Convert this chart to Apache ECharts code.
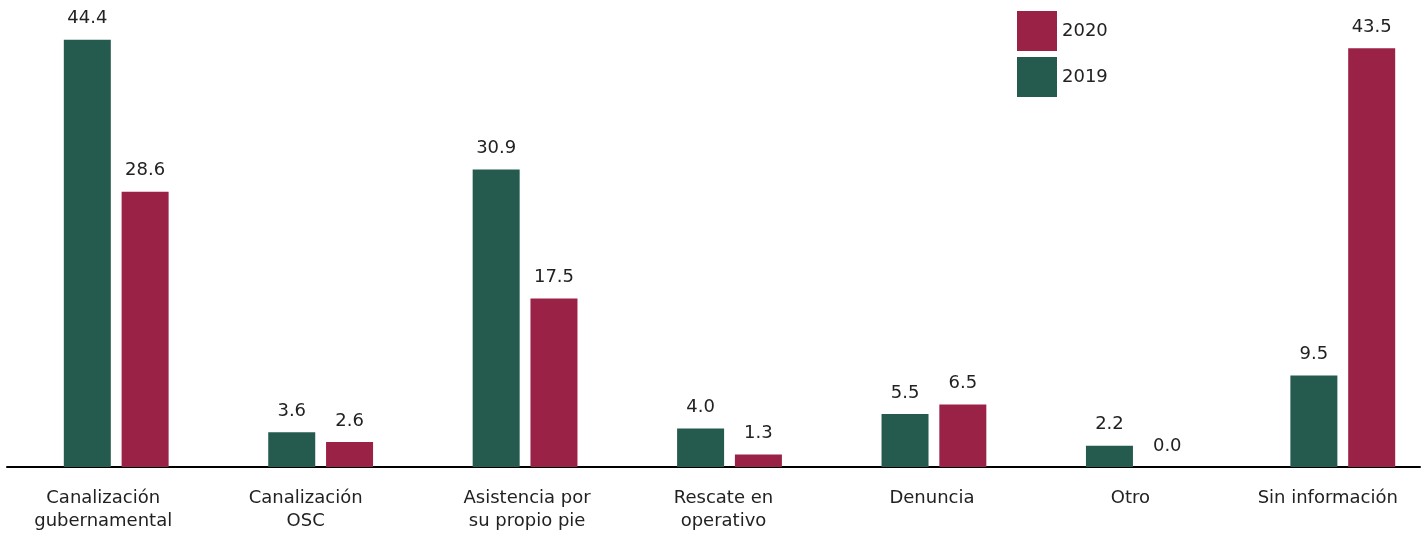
<!DOCTYPE html>
<html>
<head>
<meta charset="utf-8">
<script src="https://cdn.jsdelivr.net/npm/echarts@6/dist/echarts.min.js"></script>
<style>html,body{margin:0;padding:0;background:#fff;}#c{width:1426px;height:533px;}</style>
</head>
<body>
<div id="c"></div>
<script>
const categories = ['Canalización\ngubernamental', 'Canalización\nOSC', 'Asistencia por\nsu propio pie', 'Rescate en\noperativo', 'Denuncia', 'Otro', 'Sin información'];
const values2019 = [44.4, 3.6, 30.9, 4.0, 5.5, 2.2, 9.5];
const values2020 = [28.6, 2.6, 17.5, 1.3, 6.5, 0.0, 43.5];
const seriesNames = ['2019', '2020'];

// horizontal nudge of each category label (styling only)
const labelShift = [-13, -15, 2, -6, -2, -8, -15];

const FONT = 'DejaVu Sans';
const GREEN = '#245B4E';
const MAROON = '#9B2247';

const chart = echarts.init(document.getElementById('c'));
const labelCfg = {
  show: true, position: 'top', distance: 12,
  fontFamily: FONT, fontSize: 18, color: '#222',
  formatter: p => p.value.toFixed(1)
};
const catData = categories.map((c, i) => {
  const s = labelShift[i];
  const pad = s < 0 ? [0, -2 * s, 0, 0] : [0, 0, 0, 2 * s];
  return { value: c, textStyle: { padding: pad } };
});
chart.setOption({
  animation: false,
  textStyle: { fontFamily: FONT },
  legend: {
    data: ['2020', '2019'],
    orient: 'vertical',
    left: 1017, top: 11, padding: 0,
    itemWidth: 40, itemHeight: 40, itemGap: 6,
    icon: 'rect',
    textStyle: { fontFamily: FONT, fontSize: 18, color: '#222' }
  },
  grid: [
    { left: 14, width: 1431, top: 5, bottom: 66, outerBoundsMode: 'none', containLabel: false },
    { left: 7, right: 6, top: 5, bottom: 66, outerBoundsMode: 'none', containLabel: false }
  ],
  xAxis: [
    {
      type: 'category', gridIndex: 0, data: catData,
      axisLine: { show: false },
      axisTick: { show: false },
      axisLabel: { margin: 20, fontFamily: FONT, fontSize: 18, color: '#222', lineHeight: 23, interval: 0 }
    },
    {
      type: 'category', gridIndex: 1, data: categories,
      axisLine: { show: true, lineStyle: { color: '#000', width: 2 } },
      axisTick: { show: false },
      axisLabel: { show: false }
    }
  ],
  yAxis: [
    { type: 'value', gridIndex: 0, min: 0, max: 48, show: false, splitLine: { show: false } },
    { type: 'value', gridIndex: 1, min: 0, max: 48, show: false, splitLine: { show: false } }
  ],
  series: [
    {
      name: seriesNames[0], type: 'bar', data: values2019,
      xAxisIndex: 0, yAxisIndex: 0,
      barWidth: 47, barGap: '23%',
      itemStyle: { color: GREEN },
      label: labelCfg
    },
    {
      name: seriesNames[1], type: 'bar', data: values2020,
      xAxisIndex: 0, yAxisIndex: 0,
      barWidth: 47, barGap: '23%',
      itemStyle: { color: MAROON },
      label: labelCfg
    }
  ]
});
</script>
</body>
</html>
